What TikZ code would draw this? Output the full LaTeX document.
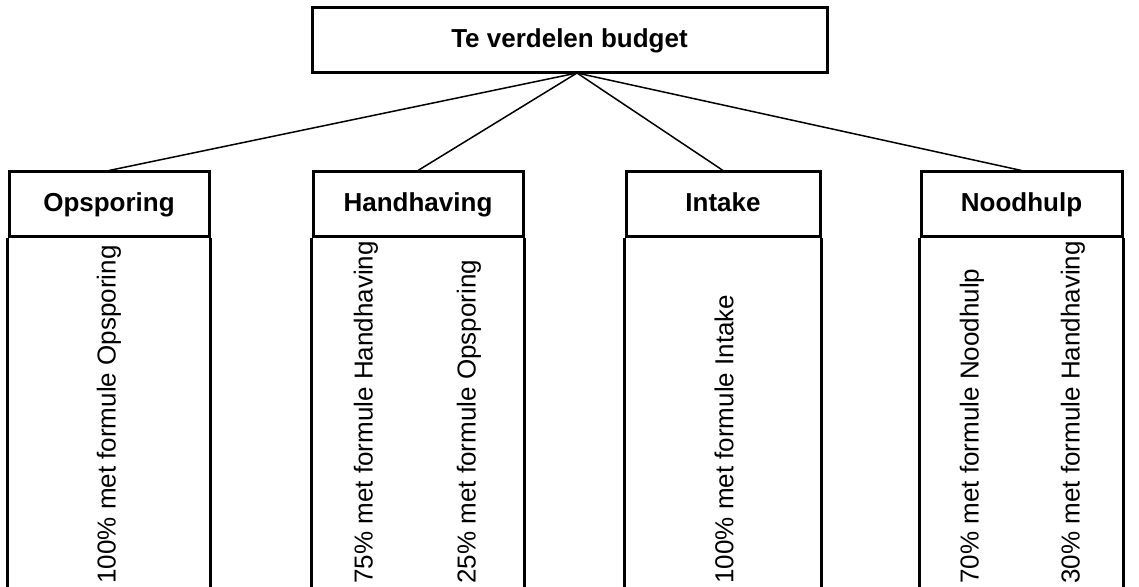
\documentclass[tikz,border=0pt]{standalone}
\usepackage{fontspec}
\setmainfont{Liberation Sans}
\usetikzlibrary{calc}

\begin{document}
\begin{tikzpicture}[x=0.5pt,y=-0.5pt,
  hdr/.style={draw,line width=1.5pt,minimum height=32.5pt,inner sep=0pt,
    text height=0.72em,text depth=0pt,
    font=\bfseries\fontsize{13}{16}\selectfont},
  share/.style={rotate=90,anchor=west,inner sep=0pt,
    font=\fontsize{13}{16}\selectfont},
  col/.style={line width=1.5pt},
  link/.style={line width=0.75pt}]
\useasboundingbox (0,0) rectangle (1139,587);

\node[hdr,minimum width=257.5pt] (budget) at (569.5,40.5) {Te verdelen budget};
\coordinate (hub) at (577,73);
\coordinate (bot) at (0,587);

\node[hdr,minimum width=100pt] (ops) at (109,204.5) {Opsporing};
\node[hdr,minimum width=105pt] (hh) at (418,204.5) {Handhaving};
\node[hdr,minimum width=97pt] (int) at (723,204.5) {Intake};
\node[hdr,minimum width=100.5pt] (nh) at (1021.5,204.5) {Noodhulp};

\foreach \b in {ops,hh,int,nh}{
  \draw[col] (\b.south west) -- (\b.south west |- bot);
  \draw[col] (\b.south east) -- (\b.south east |- bot);
  \draw[link] (hub) -- (\b.north);
}

\node[share] (ops1) at (109,584) {100\% met formule Opsporing};
\node[share] (hh1) at (366,584) {75\% met formule Handhaving};
\node[share] (hh2) at (469,584) {25\% met formule Opsporing};
\node[share] (int1) at (724,584) {100\% met formule Intake};
\node[share] (nh1) at (972,584) {70\% met formule Noodhulp};
\node[share] (nh2) at (1073,584) {30\% met formule Handhaving};

\end{tikzpicture}
\end{document}
